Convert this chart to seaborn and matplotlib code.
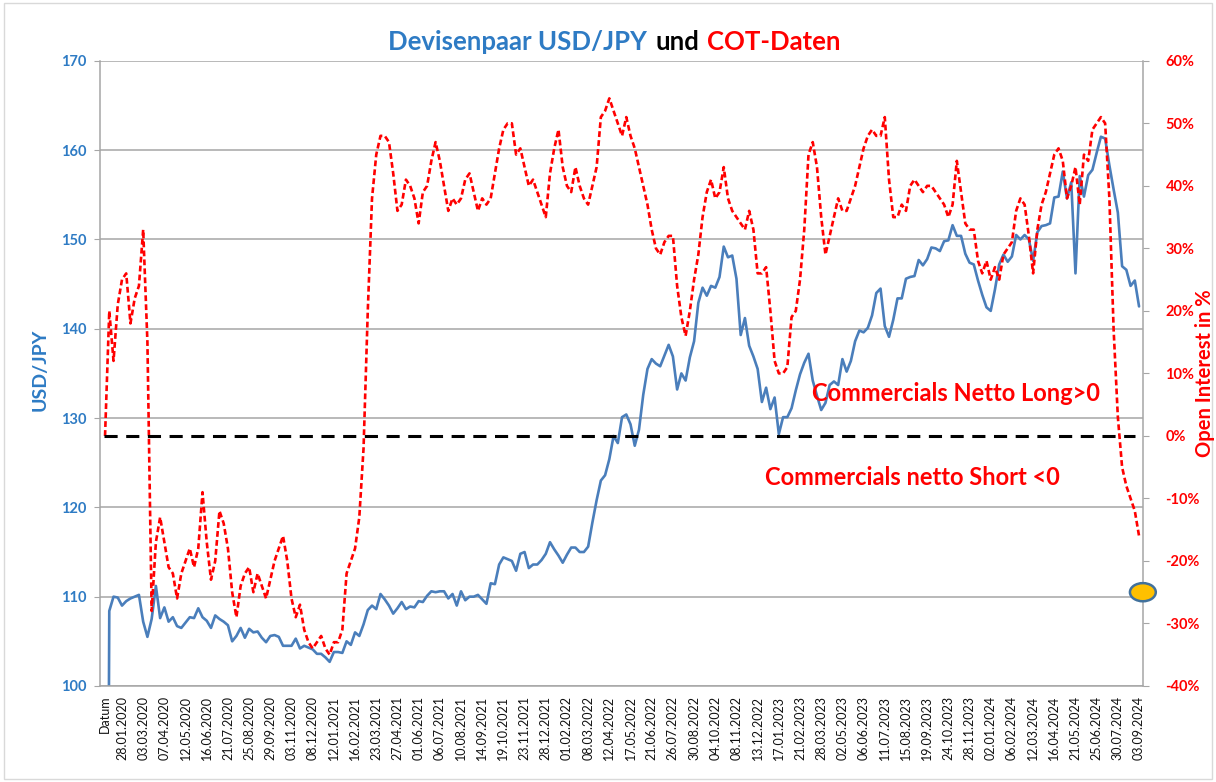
import matplotlib
matplotlib.use('Agg')
import numpy as np
import pandas as pd
import matplotlib.pyplot as plt
from matplotlib.patches import Ellipse, Rectangle
import seaborn as sns

sns.set_style('white')
plt.rcParams['font.family'] = ['Lato', 'DejaVu Sans']

# weekly values; first entry is the "Datum" header row (0)
usd_jpy = [
    0,
    108.4, 110.0, 109.9, 109.0, 109.5, 109.8, 110.0, 110.2,
    107.2, 105.5, 107.5, 111.2, 107.6, 108.8, 107.2, 107.7,
    106.7, 106.5, 107.1, 107.7, 107.6, 108.7, 107.7, 107.3,
    106.5, 107.9, 107.5, 107.2, 106.8, 105.0, 105.6, 106.5,
    105.4, 106.4, 106.0, 106.1, 105.4, 104.9, 105.6, 105.7,
    105.5, 104.5, 104.5, 104.5, 105.3, 104.2, 104.5, 104.3,
    104.1, 103.6, 103.6, 103.2, 102.7, 103.8, 103.8, 103.7,
    105.0, 104.6, 106.0, 105.6, 106.9, 108.5, 109.0, 108.6,
    110.3, 109.7, 109.0, 108.1, 108.7, 109.4, 108.6, 108.9,
    108.8, 109.5, 109.4, 110.1, 110.6, 110.5, 110.6, 110.6,
    109.8, 110.3, 109.0, 110.6, 109.6, 110.0, 110.0, 110.2,
    109.7, 109.2, 111.5, 111.4, 113.6, 114.4, 114.2, 114.0,
    112.9, 114.8, 115.0, 113.2, 113.6, 113.6, 114.1, 114.8,
    116.1, 115.3, 114.6, 113.8, 114.7, 115.5, 115.5, 115.0,
    115.0, 115.6, 118.3, 120.8, 123.0, 123.6, 125.4, 128.0,
    127.2, 130.1, 130.4, 129.3, 126.9, 128.7, 132.6, 135.5,
    136.6, 136.1, 135.8, 137.0, 138.2, 136.9, 133.2, 135.0,
    134.2, 136.8, 138.6, 142.9, 144.6, 143.7, 144.8, 144.6,
    145.8, 149.2, 148.0, 148.2, 145.6, 139.3, 141.2, 138.1,
    136.9, 135.5, 131.8, 133.4, 131.0, 132.3, 128.2, 130.1,
    130.1, 131.1, 133.1, 134.9, 136.2, 137.2, 134.2, 132.5,
    130.9, 131.7, 133.7, 134.1, 133.7, 136.6, 135.2, 136.4,
    138.6, 139.8, 139.6, 140.1, 141.5, 144.0, 144.5, 140.3,
    139.1, 141.0, 143.4, 143.4, 145.6, 145.8, 145.9, 147.7,
    147.1, 147.8, 149.1, 149.0, 148.7, 149.8, 149.9, 151.6,
    150.4, 150.4, 148.4, 147.4, 147.2, 145.4, 143.8, 142.4,
    142.0, 144.4, 147.2, 148.3, 147.5, 148.1, 150.5, 150.0,
    150.5, 150.0, 147.6, 150.8, 151.5, 151.6, 151.8, 154.7,
    154.8, 157.6, 154.6, 156.4, 146.2, 157.1, 154.8, 157.2,
    157.8, 159.7, 161.5, 161.3, 158.3, 155.6, 153.0, 147.0,
    146.6, 144.8, 145.4, 142.5,
]

cot_pct = [
    0,
    20, 12, 21, 25, 26, 18, 22, 24,
    33, 15, -28, -17, -13, -17, -21, -22,
    -26, -22, -20, -18, -21, -18, -9, -17,
    -23, -20, -12, -14, -18, -25, -29, -24,
    -22, -21, -25, -22, -24, -26, -23, -20,
    -18, -16, -20, -26, -29, -27, -31, -33,
    -34, -33, -32, -34, -35, -33, -33, -31,
    -22, -20, -18, -13, -2, 20, 38, 45,
    48, 48, 47, 42, 36, 37, 41, 40,
    38, 34, 39, 40, 44, 47, 44, 40,
    36, 38, 37, 38, 41, 42, 39, 36,
    38, 37, 38, 42, 46, 49, 50, 50,
    45, 46, 43, 40, 41, 39, 37, 35,
    42, 46, 49, 43, 40, 39, 43, 40,
    38, 37, 40, 43, 51, 52, 54, 52,
    50, 48, 51, 48, 46, 43, 40, 37,
    33, 30, 29, 31, 32, 32, 24, 19,
    16, 20, 25, 29, 35, 39, 41, 38,
    39, 43, 38, 36, 35, 34, 33, 36,
    33, 26, 26, 27, 20, 12, 10, 10,
    11, 19, 20, 25, 33, 45, 47, 43,
    35, 29, 32, 35, 38, 36, 36, 38,
    40, 43, 46, 48, 49, 48, 48, 51,
    41, 35, 35, 37, 36, 40, 41, 40,
    39, 40, 40, 39, 38, 37, 35, 37,
    44, 39, 34, 33, 33, 28, 26, 28,
    25, 27, 25, 29, 30, 31, 36, 38,
    37, 32, 26, 33, 37, 39, 42, 45,
    46, 44, 38, 40, 43, 37, 45, 44,
    49, 50, 51, 50, 38, 17, 3, -5,
    -8, -10, -12, -16,
]

tick_labels = [
    'Datum',
    '28.01.2020', '03.03.2020', '07.04.2020', '12.05.2020', '16.06.2020',
    '21.07.2020', '25.08.2020', '29.09.2020', '03.11.2020', '08.12.2020',
    '12.01.2021', '16.02.2021', '23.03.2021', '27.04.2021', '01.06.2021',
    '06.07.2021', '10.08.2021', '14.09.2021', '19.10.2021', '23.11.2021',
    '28.12.2021', '01.02.2022', '08.03.2022', '12.04.2022', '17.05.2022',
    '21.06.2022', '26.07.2022', '30.08.2022', '04.10.2022', '08.11.2022',
    '13.12.2022', '17.01.2023', '21.02.2023', '28.03.2023', '02.05.2023',
    '06.06.2023', '11.07.2023', '15.08.2023', '19.09.2023', '24.10.2023',
    '28.11.2023', '02.01.2024', '06.02.2024', '12.03.2024', '16.04.2024',
    '21.05.2024', '25.06.2024', '30.07.2024', '03.09.2024',
]

current_pct = -25  # yellow marker on the right axis

assert len(usd_jpy) == len(cot_pct) == 245

df = pd.DataFrame({'week': np.arange(len(usd_jpy)), 'usd_jpy': usd_jpy, 'cot': cot_pct})

BLUE_TXT = '#2E7BC4'
BLUE_LINE = '#4A7EBB'
RED = '#FF0000'
GRID = '#A6A6A6'

fig = plt.figure(figsize=(12.16, 7.82), dpi=100)
ax = fig.add_axes([0.0822, 0.1228, 0.858, 0.7994])
ax2 = ax.twinx()

sns.lineplot(data=df, x='week', y='usd_jpy', ax=ax, color=BLUE_LINE, linewidth=1.9)
sns.lineplot(data=df, x='week', y='cot', ax=ax2, color=RED, linewidth=1.9,
             linestyle=(0, (2.2, 1.2)))
ax2.axhline(0, xmin=0.004, xmax=0.992, color='black', linewidth=2.2,
            linestyle=(0, (4.3, 2.8)))

# axes ranges
ax.set_xlim(-1.2, 245)
ax.set_ylim(100, 170)
ax2.set_ylim(-40, 60)

ax.set_yticks(np.arange(100, 171, 10))
ax.set_yticklabels([str(v) for v in range(100, 171, 10)], color=BLUE_TXT,
                   fontweight='bold', fontsize=10.5)
ax2.set_yticks(np.arange(-40, 61, 10))
ax2.set_yticklabels(['%d%%' % v for v in range(-40, 61, 10)], color=RED,
                    fontweight='bold', fontsize=10.5)

tick_pos = [0] + list(range(4, len(usd_jpy), 5))
ax.set_xticks(tick_pos)
ax.set_xticklabels(tick_labels, rotation=90, fontsize=9, color='#111111')
ax.set_xticks(np.arange(len(usd_jpy)), minor=True)
ax.tick_params(axis='x', which='both', direction='out', length=4, color=GRID, pad=3)
ax.tick_params(axis='y', direction='out', length=4, color=GRID, pad=6)
ax2.tick_params(axis='y', direction='out', length=4, color=GRID, pad=12)

ax.yaxis.grid(True, color=GRID, linewidth=1.1)
ax.set_axisbelow(True)
ax.set_xlabel('')
ax.set_ylabel('')
ax2.set_ylabel('')

for a in (ax, ax2):
    a.spines['top'].set_visible(False)
    for s in ('left', 'right', 'bottom'):
        a.spines[s].set_color(GRID)
        a.spines[s].set_linewidth(1.1)
ax.spines['right'].set_visible(False)
ax2.spines['left'].set_visible(False)
ax2.spines['bottom'].set_visible(False)

# annotations
ax.text(166.8, 132.8, 'Commercials Netto Long>0', color=RED, fontweight='bold',
        fontsize=17, va='center', ha='left')
ax.text(155.7, 123.3, 'Commercials netto Short <0', color=RED, fontweight='bold',
        fontsize=17, va='center', ha='left')

# current value marker on the right axis
ell = Ellipse((244.9, current_pct), width=6.1, height=2.9, facecolor='#FFC000',
              edgecolor='#41719C', linewidth=1.8, clip_on=False, zorder=10)
ax2.add_patch(ell)

# axis titles
fig.text(40 / 1216, 1 - 370 / 782, 'USD/JPY', rotation=90, color=BLUE_TXT,
         fontweight='bold', fontsize=14, ha='center', va='center')
fig.text(1205 / 1216, 1 - 373 / 782, 'Open Interest in %', rotation=90, color=RED,
         fontweight='bold', fontsize=14.5, ha='center', va='center')

# multicolour title
parts = [('Devisenpaar USD/JPY', BLUE_TXT), ('und', 'black'), ('COT-Daten', RED)]
renderer = fig.canvas.get_renderer()
texts = [fig.text(0, 1 - 42 / 782, s, color=c, fontsize=18.5, fontweight='bold',
                  va='center', ha='left') for s, c in parts]
widths = [t.get_window_extent(renderer).width for t in texts]
gap = 8
total = sum(widths) + gap * (len(widths) - 1)
x = 614.5 - total / 2
for t, w in zip(texts, widths):
    t.set_x(x / 1216)
    x += w + gap

# light frame around the chart
fig.patches.append(Rectangle((0.003, 0.004), 0.994, 0.992, transform=fig.transFigure,
                             fill=False, edgecolor='#D9D9D9', linewidth=1))

fig.savefig('out.png', dpi=100)
